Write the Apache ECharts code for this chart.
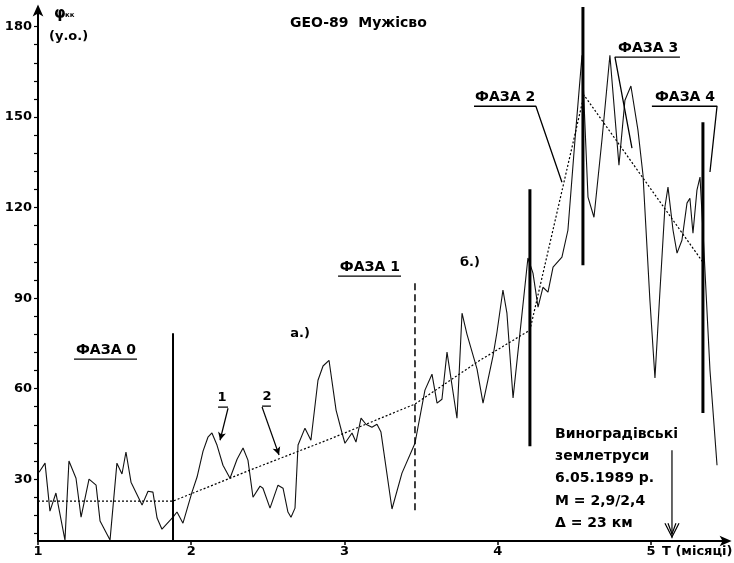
<!DOCTYPE html>
<html><head><meta charset="utf-8">
<script src="https://cdn.jsdelivr.net/npm/echarts@6/dist/echarts.min.js"></script>
<style>html,body{margin:0;padding:0;background:#fff}#c{width:734px;height:563px}</style>
</head><body><div id="c"></div>
<script>
// Curve 1 (observed φ, y.o.) — time T (months) and values
const curveT = [1.007,1.046,1.078,1.117,1.176,1.202,1.248,1.281,1.333,1.379,1.405,1.470,1.515,1.548,1.574,1.607,1.679,1.718,1.750,1.777,1.809,1.881,1.907,1.946,2.005,2.038,2.077,2.109,2.135,2.168,2.207,2.253,2.299,2.338,2.370,2.403,2.449,2.468,2.514,2.566,2.599,2.631,2.651,2.677,2.697,2.742,2.781,2.827,2.860,2.899,2.945,2.984,3.003,3.049,3.075,3.108,3.140,3.179,3.212,3.238,3.310,3.375,3.460,3.525,3.571,3.604,3.636,3.669,3.734,3.767,3.799,3.865,3.904,3.969,3.995,4.034,4.060,4.100,4.145,4.197,4.230,4.263,4.295,4.328,4.361,4.419,4.458,4.504,4.550,4.589,4.628,4.680,4.732,4.791,4.830,4.869,4.915,4.948,4.993,5.026,5.059,5.091,5.111,5.144,5.170,5.202,5.235,5.254,5.274,5.300,5.320,5.339,5.385,5.431];
const curveV = [32.3,35.3,19.4,25.4,9.8,36.0,30.3,17.4,30.0,28.0,16.1,9.8,35.3,31.7,39.0,29.0,21.4,26.0,25.7,17.1,13.4,17.4,19.1,15.4,25.7,30.7,39.3,43.9,45.3,41.3,34.6,30.3,36.6,40.3,36.3,24.0,27.7,27.0,20.4,28.0,27.0,19.1,17.4,20.4,41.3,46.9,42.9,62.8,67.5,69.4,52.9,45.3,41.9,45.3,42.3,50.2,48.2,47.2,48.2,45.6,20.1,32.0,41.9,59.5,64.8,55.2,56.5,72.1,50.2,85.0,78.1,66.5,55.2,70.8,78.7,92.7,85.0,56.9,78.4,103.3,98.3,87.0,93.6,92.0,100.3,103.6,112.5,142.4,170.5,123.5,116.8,142.4,170.5,134.1,155.6,160.3,145.7,130.8,89.3,63.5,92.7,120.2,126.8,112.5,104.9,109.2,121.5,123.1,111.5,125.8,130.1,112.5,66.1,34.6];
// Curve 2 (trend)
const trendT = [1.0,1.881,2.383,2.905,3.460,3.884,4.210,4.563,5.339];
const trendV = [22.7,22.7,33.0,43.3,54.9,69.4,79.4,157.3,101.9];
// Phase boundary markers
const markerT    = [1.881, 3.460, 4.210, 4.556, 5.339];
const markerLow  = [9.5,   19.7,  40.9,  100.9, 51.9];
const markerHigh = [78.4,  95.3,  126.1, 186.8, 148.3];
const markerKind = ['thin','dashed','thick','thick','thick'];
// Earthquake date
const quakeT = 5.137, quakeTop = 39.6, quakeBottom = 10.4;
// Axes ticks
const xTicks = [1,2,3,4,5];
const yLabels = [30,60,90,120,150,180];
const yTickMarks = [12,18,24,30,36,42,48,54,60,66,72,78,84,90,96,102,108,114,120,126,132,138,144,150,156,162,168,174,180];
// Annotation texts
const phaseNames = ['ФАЗА 0','ФАЗА 1','ФАЗА 2','ФАЗА 3','ФАЗА 4'];
const phaseTextT = [1.444, 3.166, 4.048, 4.981, 5.222];
const phaseTextV = [72.8, 100.3, 156.6, 172.9, 156.6];
// underline + leader polylines for phase names
const phaseLeaders = [
  [[1.235,69.8],[1.646,69.8]],
  [[2.958,97.3],[3.369,97.3]],
  [[3.845,153.6],[4.249,153.6],[4.419,128.4]],
  [[5.189,169.9],[4.765,169.9],[4.876,139.7]],
  [[5.006,153.6],[5.431,153.6],[5.385,131.8]]
];
const smallLabels = ['а.)','б.)','1','2'];
const smallLabelT = [2.710, 3.819, 2.201, 2.494];
const smallLabelV = [78.4, 101.9, 56.9, 57.5];
const curveNumLines = [ [[2.175,53.9],[2.240,53.9]], [[2.462,54.2],[2.520,54.2]] ];
const curveNumArrows = [ [[2.240,53.5],[2.188,42.9]], [[2.462,53.9],[2.573,38.0]] ];
const quakeText = ['Виноградівські','землетруси','6.05.1989 р.','М = 2,9/2,4','Δ = 23 км'];
const quakeTextT = 4.374, quakeTextV = 48.6;

const F = 'DejaVu Sans';
const chart = echarts.init(document.getElementById('c'));
const zip = (a,b)=>a.map((v,i)=>[v,b[i]]);
const lineSeries = (pts, style)=>({type:'line', data:pts, symbol:'none', silent:true, animation:false, z:3,
  lineStyle:Object.assign({color:'#000', width:1}, style||{})});

const series = [];
series.push(lineSeries(zip(curveT,curveV), {width:1.1, color:'#111'}));
series.push(lineSeries(zip(trendT,trendV), {width:1.2, type:[2,2], color:'#000'}));
markerT.forEach((t,i)=>{
  const k = markerKind[i];
  series.push(lineSeries([[t,markerLow[i]],[t,markerHigh[i]]],
    k==='thick'?{width:3}:k==='thin'?{width:2}:{width:1.5,type:[7,4]}));
});
phaseLeaders.forEach(p=>series.push(lineSeries(p,{width:1.3})));
curveNumLines.forEach(p=>series.push(lineSeries(p,{width:1.3})));
series.push({type:'line', data:[], silent:true, animation:false,
  markLine:{silent:true, symbol:['none','arrow'], symbolSize:[6,8], animation:false, label:{show:false},
    lineStyle:{color:'#000', width:1.2, type:'solid'},
    data: curveNumArrows.map(a=>[{coord:a[0]},{coord:a[1]}])}});
series.push(lineSeries([[quakeT,quakeTop],[quakeT,quakeBottom]],{width:1.2}));
series.push(lineSeries([[quakeT-0.046,15.4],[quakeT,10.8],[quakeT+0.046,15.4]],{width:1.2}));
series.push(lineSeries([[quakeT-0.026,15.4],[quakeT,11.8],[quakeT+0.026,15.4]],{width:1.2}));

const baseLabel = {show:true, position:[0,0], align:'center', verticalAlign:'middle', color:'#000',
  fontFamily:F, fontWeight:'bold', textBorderWidth:0};
const textData = [];
phaseNames.forEach((n,i)=>textData.push({value:[phaseTextT[i],phaseTextV[i]],
  label:Object.assign({}, baseLabel, {formatter:n, fontSize:14})}));
smallLabels.forEach((n,i)=>textData.push({value:[smallLabelT[i],smallLabelV[i]],
  label:Object.assign({}, baseLabel, {formatter:n, fontSize:13})}));
textData.push({value:[quakeTextT,quakeTextV], label:Object.assign({}, baseLabel, {formatter:quakeText.join('\n'),
  fontSize:14, align:'left', verticalAlign:'top', lineHeight:22.3})});
series.push({type:'scatter', data:textData, symbolSize:0, silent:true, animation:false, z:5,
  itemStyle:{color:'#000', opacity:1}, label:baseLabel});

chart.setOption({
  animation:false,
  backgroundColor:'#fff',
  grid:{left:38, right:6.4, top:8.5, bottom:22, containLabel:false},
  title:{text:'GEO-89  Мужісво', left:285, top:11,
    textStyle:{fontFamily:F, fontWeight:'bold', fontSize:14, color:'#000'}},
  graphic:[
    {type:'text', left:54, top:7, style:{text:'φ', font:'bold 15px "DejaVu Sans"', fill:'#000'}},
    {type:'text', left:65, top:12, style:{text:'кк', font:'bold 7px "DejaVu Sans"', fill:'#000'}},
    {type:'text', left:49, top:30, style:{text:'(у.о.)', font:'bold 13px "DejaVu Sans"', fill:'#000'}},
    {type:'text', left:662, top:545, style:{text:'T (місяці)', font:'bold 13px "DejaVu Sans"', fill:'#000'}}
  ],
  xAxis:{type:'value', min:1, max:5.5, interval:1,
    axisLine:{show:true, onZero:false, symbol:['none','arrow'], symbolSize:[8,12], symbolOffset:[0,4],
      lineStyle:{color:'#000', width:2}},
    axisTick:{show:true, length:4, customValues:xTicks, lineStyle:{color:'#000', width:1.5}},
    axisLabel:{customValues:xTicks, color:'#000', fontFamily:F, fontWeight:'bold', fontSize:13, margin:4},
    splitLine:{show:false}},
  yAxis:{type:'value', min:9.5, max:186,
    axisLine:{show:true, onZero:false, symbol:['none','arrow'], symbolSize:[8,12], symbolOffset:[0,4],
      lineStyle:{color:'#000', width:2}},
    axisTick:{show:true, length:4, customValues:yTickMarks, lineStyle:{color:'#000', width:1.2}},
    axisLabel:{customValues:yLabels, color:'#000', fontFamily:F, fontWeight:'bold', fontSize:13, margin:6},
    splitLine:{show:false}},
  series: series
});
</script></body></html>
